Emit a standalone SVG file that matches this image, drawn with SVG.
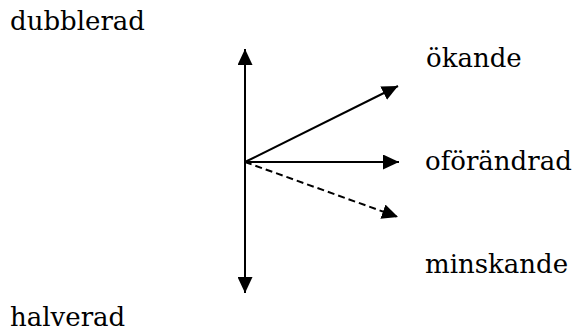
<svg xmlns="http://www.w3.org/2000/svg" width="574" height="331" viewBox="0 0 574 331">
<style>
.t{font-family:"DejaVu Serif","Liberation Serif",serif;font-size:26px;fill:#000}
.c{stroke:#000;stroke-width:2;fill:none}
.d{stroke-dasharray:7,4}
</style>
<defs>
<marker id="ah" viewBox="0 0 16 15" refX="16" refY="7.5" markerWidth="16" markerHeight="15" markerUnits="userSpaceOnUse" orient="auto-start-reverse">
<path d="M0,0 L16,7.5 L0,15 Z" fill="#000"/>
</marker>
</defs>
<rect width="574" height="331" fill="#fff"/>
<g id="connectors">
<line class="c" x1="245" y1="49" x2="245" y2="293" marker-start="url(#ah)" marker-end="url(#ah)"/>
<line class="c" x1="245" y1="162" x2="398" y2="86" marker-end="url(#ah)"/>
<line class="c" x1="245" y1="162" x2="399" y2="162" marker-end="url(#ah)"/>
<line class="c d" x1="245" y1="162" x2="398" y2="217" marker-end="url(#ah)"/>
</g>
<g id="dubblerad"><text class="t" x="10" y="30">dubblerad</text></g>
<g id="okande"><text class="t" x="426" y="67">ökande</text></g>
<g id="oforandrad"><text class="t" x="425" y="170">oförändrad</text></g>
<g id="minskande"><text class="t" x="425" y="273">minskande</text></g>
<g id="halverad"><text class="t" x="10" y="326">halverad</text></g>
</svg>
